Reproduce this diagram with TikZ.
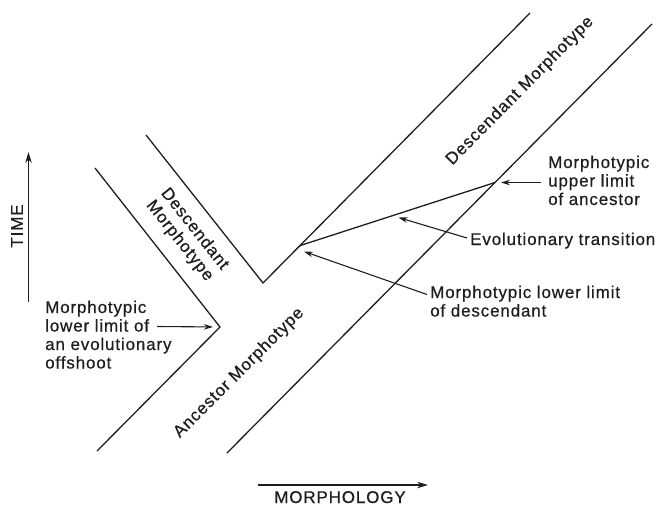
\documentclass[tikz,border=0pt]{standalone}
\usepackage{fontspec}
\setmainfont[LetterSpace=5,FakeBold=0.6]{Liberation Sans}
\usetikzlibrary{arrows.meta}
\definecolor{inkc}{RGB}{30,30,30}
\begin{document}
\begin{tikzpicture}[x=1pt,y=-1pt,
  band/.style={draw=inkc, line width=1.3pt, line join=miter},
  callout/.style={draw=inkc, line width=1.1pt, -{Stealth[length=9pt,width=5.5pt]}},
  axis/.style={draw=inkc, line width=1.2pt, -{Stealth[length=11pt,width=6.5pt]}},
  lbl/.style={inner sep=0pt, text=inkc, font=\fontsize{17}{18.5}\selectfont},
  rlbl/.style={inner sep=0pt, text=inkc, font=\fontsize{17}{19}\selectfont, align=center}]
\useasboundingbox (0,0) rectangle (656,504);
% key points
\coordinate (O1) at (95,168);
\coordinate (A)  at (220,327);
\coordinate (AL) at (97,451);
\coordinate (O2) at (146,135);
\coordinate (V)  at (263,283);
\coordinate (D1) at (530,13);
\coordinate (RB) at (227,453);
\coordinate (RT) at (652,24);
\coordinate (P)  at (300,245.6);
\coordinate (Q)  at (495,182.5);
% bands
\draw[band] (O1) -- (A) -- (AL);
\draw[band] (O2) -- (V) -- (D1);
\draw[band] (RB) -- (RT);
\draw[band] (P) -- (Q);
% axes
\coordinate (T0) at (28.5,302);
\coordinate (T1) at (28.5,152);
\draw[axis] (T0) -- (T1);
\node[lbl, rotate=90] (time) at (17,226) {TIME};
\coordinate (M0) at (258,485);
\coordinate (M1) at (428,485);
\draw[axis] (M0) -- (M1);
\node[lbl, anchor=base] (morph) at (340,503) {MORPHOLOGY};
% band labels
\node[rlbl, rotate=45.3] (desc) at (520,91) {Descendant Morphotype};
\node[rlbl, rotate=45] (anc) at (239,373) {Ancestor Morphotype};
\node[rlbl, rotate=-51.7] (off) at (187,235) {Descendant\\Morphotype};
% callout texts
\node[lbl, anchor=base west] (tOff) at (45,313) {\vtop{\hbox{Morphotypic}\hbox{lower limit of}\hbox{an evolutionary}\hbox{offshoot}}};
\node[lbl, anchor=base west] (tUp) at (548,168) {\vtop{\hbox{Morphotypic}\hbox{upper limit}\hbox{of ancestor}}};
\node[lbl, anchor=base west] (tEvo) at (470,245) {Evolutionary transition};
\node[lbl, anchor=base west] (tLow) at (430,298) {\vtop{\hbox{Morphotypic lower limit}\hbox{of descendant}}};
% callout arrows
\coordinate (cOff) at (157,326.5);
\coordinate (cUp)  at (541,182.5);
\coordinate (cEvo) at (467,238);
\coordinate (E)    at (398.5,217.5);
\coordinate (cLow) at (427,294.5);
\coordinate (L)    at (304,251.5);
\draw[callout, shorten >=7pt] (cOff) -- (A);
\draw[callout, shorten >=6pt] (cUp) -- (Q);
\draw[callout] (cEvo) -- (E);
\draw[callout] (cLow) -- (L);
\end{tikzpicture}
\end{document}
